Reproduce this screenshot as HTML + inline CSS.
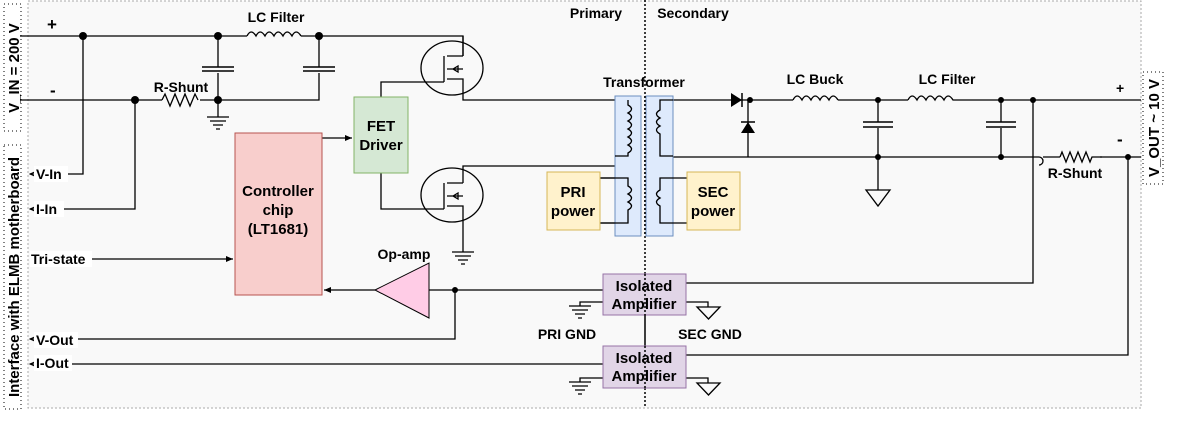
<!DOCTYPE html>
<html><head><meta charset="utf-8"><style>
body{margin:0;background:#fff}
svg{display:block;font-family:"Liberation Sans",Arial,sans-serif;font-weight:bold}
</style></head><body>
<svg width="1177" height="424" viewBox="0 0 1177 424">
<defs>
<marker id="ar" markerWidth="8" markerHeight="8" refX="7" refY="4" orient="auto" markerUnits="userSpaceOnUse"><path d="M0,1 L7,4 L0,7 Z" fill="#000"/></marker>
<marker id="ao" markerWidth="8" markerHeight="8" refX="7" refY="4" orient="auto" markerUnits="userSpaceOnUse"><path d="M0,1 L7,4 L0,7" fill="none" stroke="#000" stroke-width="1"/></marker>
</defs>
<rect x="28" y="1" width="1113" height="407" fill="#f9f9f9" stroke="#aaa" stroke-dasharray="2,2"/>
<rect x="4" y="4" width="17" height="127" fill="#fff" stroke="#000" stroke-dasharray="1,3"/>
<rect x="4" y="145" width="17" height="264" fill="#fff" stroke="#000" stroke-dasharray="1,3"/>
<rect x="1143" y="72" width="20" height="112" fill="#fff" stroke="#000" stroke-dasharray="1,3"/>
<text transform="translate(19,68) rotate(-90)" font-size="15" text-anchor="middle">V_IN = 200 V</text>
<text transform="translate(19,277) rotate(-90)" font-size="15" text-anchor="middle">Interface with ELMB motherboard</text>
<text transform="translate(1159,128) rotate(-90)" font-size="15" text-anchor="middle">V_OUT ~ 10 V</text>
<line x1="645" y1="0" x2="645" y2="408" stroke="#000" stroke-width="1.5" stroke-dasharray="2,2"/>
<g font-size="14" text-anchor="middle">
<text x="596" y="18">Primary</text><text x="693" y="18">Secondary</text>
<text x="276" y="22">LC Filter</text><text x="181" y="92">R-Shunt</text>
<text x="644" y="87">Transformer</text><text x="815" y="84">LC Buck</text><text x="947" y="84">LC Filter</text>
<text x="1075" y="178">R-Shunt</text><text x="404" y="259">Op-amp</text>
<text x="567" y="339">PRI GND</text><text x="710" y="339">SEC GND</text>
</g>
<g font-size="17"><text x="47" y="30">+</text><text x="50" y="96">-</text><text x="1116" y="93" font-size="14">+</text><text x="1117" y="145">-</text></g>
<g stroke="#000" stroke-width="1.3" fill="none">
<!-- input -->
<path d="M20,36 H247 M302,36 H463 V56"/>
<path d="M247,36 q4,-8 9,0 q4,-8 9,0 q4,-8 9,0 q4,-8 9,0 q4,-8 9,0 q4,-8 9,0 M301,36 h1"/>
<path d="M20,100 H162 M200,100 H319 V73 M319,67 V36 M218,36 V67 M218,73 V100 V117"/>
<path d="M162,100 l3,-6 l5,12 l5,-12 l5,12 l5,-12 l5,12 l5,-12 l3,6"/>
<path d="M202,67 h32 M202,71 h32 M303,67 h32 M303,71 h32" stroke-width="1.6"/>
<path d="M207,117 h22 M210,121 h16 M213,125 h10 M216,129 h4"/>
<path d="M83,36 V174 H30" marker-end="url(#ao)"/>
<path d="M135,100 V209 H30" marker-end="url(#ao)"/>
<path d="M92,259 H233" marker-end="url(#ar)"/>
<path d="M322,138 H352" marker-end="url(#ar)"/>
<!-- mosfets -->
<ellipse cx="452" cy="68" rx="31" ry="27"/>
<ellipse cx="452" cy="195" rx="31" ry="27"/>
<path d="M381,97 V82 H444 M444,56 V82 M447,56 H463 M447,69 H463 M447,79 H463 V100 H615 M463,56 V36 M453,69 l5,-3 v6 z"/>
<path d="M381,173 V209 H444 M444,183 V209 M447,183 H463 M447,196 H463 M447,206 H463 V252 M463,183 V166 H615 M453,196 l5,-3 v6 z"/>
<path d="M452,252 h22 M455,256 h16 M458,260 h10 M461,264 h4" transform="translate(0,0)"/>
<!-- opamp -->
<path d="M375,290 H324" marker-end="url(#ar)"/>
<path d="M429,290 H603 M455,290 V339 H30" marker-end="url(#ao)"/>
<path d="M603,364 H30" marker-end="url(#ao)"/>
<path d="M603,302 H580 V306 M686,302 H708 V307 M603,378 H580 V382 M686,378 H708 V383"/>
<path d="M569,306 h22 M572,310 h16 M575,314 h10 M578,318 h4 M569,382 h22 M572,386 h16 M575,390 h10 M578,394 h4"/>
<path d="M697,307 h23 l-11.5,12 z M697,383 h23 l-11.5,12 z"/>
<path d="M686,283 H1033 V100 M686,355 H1128 V157"/>
<!-- transformer -->
<path d="M600,178 H628 M600,223 H628 M673,178 H660 M673,223 H660"/>
<path d="M628,100 v5 q7,4 0,8 q7,4 0,8 q7,4 0,8 q7,4 0,8 q7,4 0,8 q7,4 0,8 v3"/>
<path d="M628,178 v8 q7,4 0,8 q7,4 0,8 q7,4 0,8 v13"/>
<path d="M660,100 v10 q-7,4 0,8 q-7,4 0,8 q-7,4 0,8 v22 H673"/>
<path d="M660,178 v12 q-7,4 0,8 q-7,4 0,8 v17"/>
<!-- secondary -->
<path d="M673,100 H793 M838,100 H908 M955,100 H1141"/>
<path d="M793,100 q4,-8 9,0 q4,-8 9,0 q4,-8 9,0 q4,-8 9,0 q4,-8 9,0"/>
<path d="M908,100 q4,-8 9,0 q4,-8 9,0 q4,-8 9,0 q4,-8 9,0 q4,-8 9,0 h2"/>
<path d="M673,157 H1039 a4,4 0 0 1 0,8 M1039,157 m0,0 M1043,157 H1060 M1100,157 H1141"/>
<path d="M1060,157 l2,-5 l4,10 l4,-10 l4,10 l4,-10 l4,10 l4,-10 l4,10 l2,-5 h10"/>
<path d="M748,100 V157 M878,100 V122 M878,128 V190 M1001,100 V122 M1001,128 V157"/>
<path d="M863,122 h30 M863,127 h30 M986,122 h30 M986,127 h30" stroke-width="1.6"/>
<path d="M866,190 h24 l-12,16 z"/>
</g>
<path d="M731,93 l11,7 l-11,7 z" fill="#000"/><line x1="742" y1="93" x2="742" y2="107" stroke="#000" stroke-width="1.5"/>
<path d="M741,133 l7,-11 l7,11 z" fill="#000"/><line x1="741" y1="122" x2="755" y2="122" stroke="#000" stroke-width="1.5"/>
<g fill="#000">
<circle cx="83" cy="36" r="4"/><circle cx="218" cy="36" r="4"/><circle cx="319" cy="36" r="4"/>
<circle cx="135" cy="100" r="4"/><circle cx="218" cy="100" r="4"/>
<circle cx="750" cy="100" r="3"/><circle cx="878" cy="100" r="3"/><circle cx="878" cy="157" r="3"/>
<circle cx="1001" cy="100" r="3"/><circle cx="1001" cy="157" r="3"/><circle cx="1033" cy="100" r="3"/>
<circle cx="1128" cy="157" r="3"/><circle cx="455" cy="290" r="3"/>
</g>
<!-- boxes -->
<rect x="615" y="96" width="26" height="140" fill="#dae8fc" fill-opacity="0.9" stroke="#6c8ebf"/>
<rect x="646" y="96" width="27" height="140" fill="#dae8fc" fill-opacity="0.9" stroke="#6c8ebf"/>
<g stroke="#000" stroke-width="1.3" fill="none">
<path d="M628,100 v5 q7,4 0,8 q7,4 0,8 q7,4 0,8 q7,4 0,8 q7,4 0,8 q7,4 0,8 v3 H615"/>
<path d="M600,178 H628 v8 q7,4 0,8 q7,4 0,8 q7,4 0,8 v13 H600"/>
<path d="M673,100 H660 v10 q-7,4 0,8 q-7,4 0,8 q-7,4 0,8 v22 H673"/>
<path d="M687,178 H660 v12 q-7,4 0,8 q-7,4 0,8 v17 H687"/>
</g>
<line x1="645" y1="96" x2="645" y2="236" stroke="#000" stroke-width="1.5" stroke-dasharray="2,2"/>
<rect x="354" y="97" width="54" height="76" fill="#d5e8d4" stroke="#82b366"/>
<rect x="235" y="133" width="87" height="162" fill="#f8cecc" stroke="#b85450"/>
<rect x="547" y="172" width="53" height="58" fill="#fff2cc" stroke="#d6b656"/>
<rect x="687" y="172" width="53" height="58" fill="#fff2cc" stroke="#d6b656"/>
<rect x="603" y="274" width="83" height="41" fill="#e1d5e7" stroke="#9673a6"/>
<rect x="603" y="346" width="83" height="42" fill="#e1d5e7" stroke="#9673a6"/>
<path d="M375,290 L429,263 L429,318 Z" fill="#ffcce6" stroke="#000"/>
<line x1="645" y1="274" x2="645" y2="388" stroke="#000" stroke-width="1.5" stroke-dasharray="2,2"/>
<g font-size="15" text-anchor="middle">
<text x="381" y="131">FET</text><text x="381" y="150">Driver</text>
<text x="278" y="196">Controller</text><text x="278" y="215">chip</text><text x="278" y="234">(LT1681)</text>
<text x="573" y="197">PRI</text><text x="573" y="216">power</text>
<text x="713" y="197">SEC</text><text x="713" y="216">power</text>
<text x="644" y="291">Isolated</text><text x="644" y="309">Amplifier</text>
<text x="644" y="363">Isolated</text><text x="644" y="381">Amplifier</text>
</g>
<g font-size="14">
<rect x="34" y="166" width="34" height="16" fill="#fff"/><text x="36" y="179">V-In</text>
<rect x="34" y="201" width="30" height="16" fill="#fff"/><text x="36" y="214">I-In</text>
<rect x="30" y="251" width="62" height="16" fill="#fff"/><text x="31" y="264">Tri-state</text>
<rect x="34" y="332" width="44" height="16" fill="#fff"/><text x="36" y="345">V-Out</text>
<rect x="34" y="355" width="38" height="16" fill="#fff"/><text x="36" y="368">I-Out</text>
</g>
</svg>
</body></html>
